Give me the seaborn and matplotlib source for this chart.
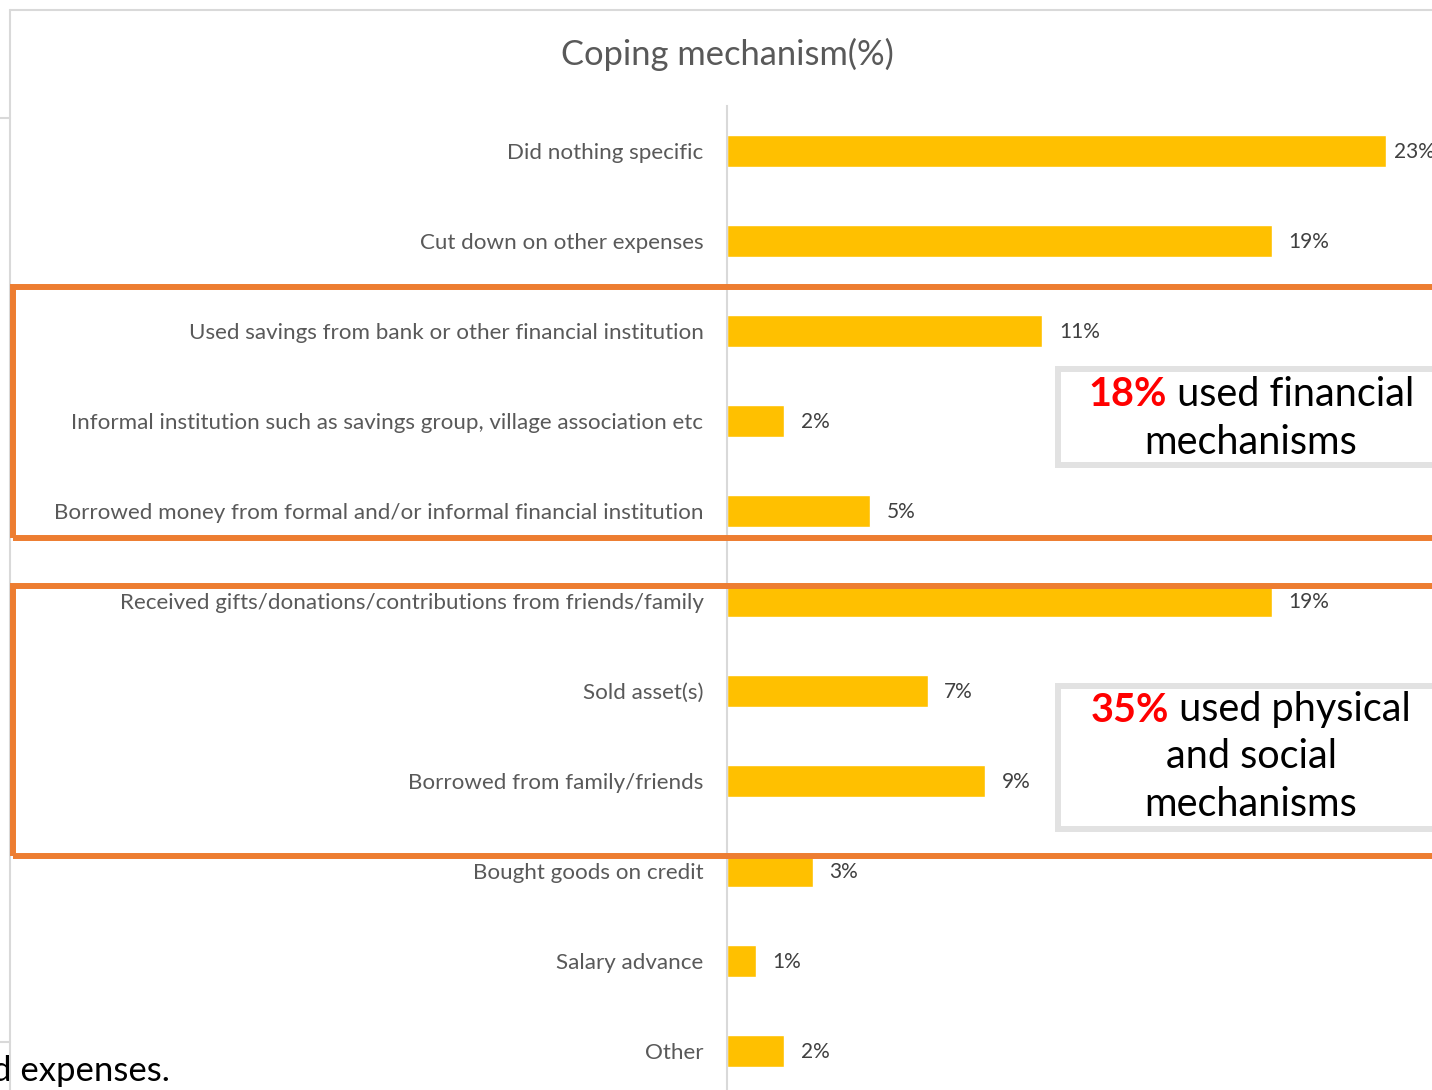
import matplotlib
matplotlib.use("Agg")
import matplotlib.pyplot as plt
from matplotlib.patches import Rectangle
from matplotlib.lines import Line2D
import seaborn as sns
import pandas as pd

# Survey results: coping mechanisms (% of respondents)
categories = [
    "Did nothing specific",
    "Cut down on other expenses",
    "Used savings from bank or other financial institution",
    "Informal institution such as savings group, village association etc",
    "Borrowed money from formal and/or informal financial institution",
    "Received gifts/donations/contributions from friends/family",
    "Sold asset(s)",
    "Borrowed from family/friends",
    "Bought goods on credit",
    "Salary advance",
    "Other",
]
values = [23, 19, 11, 2, 5, 19, 7, 9, 3, 1, 2]

title = "Coping mechanism(%)"
callout_financial = ("18%", " used financial", "mechanisms")
callout_social = ("35%", " used physical", "and social", "mechanisms")
footer_text = "d expenses."

df = pd.DataFrame({"mechanism": categories, "share": values})

sns.set_theme(style="white")
FONT = ["Lato", "DejaVu Sans"]
plt.rcParams["font.family"] = FONT

W, H = 1432, 1090
fig = plt.figure(figsize=(W / 100, H / 100), dpi=100)
fig.patch.set_facecolor("white")


def fx(px):
    return px / W


def fy(py):
    return 1 - py / H


ax = fig.add_axes([fx(727), 0, 1 - fx(727), fy(106)])
sns.barplot(data=df, y="mechanism", x="share", orient="h", color="#FFC000",
            width=0.355, saturation=1, ax=ax, zorder=2)
ax.set_xlim(0, 24.6)
ax.set_ylim(10.433, -0.5)
ax.set_xlabel("")
ax.set_ylabel("")
ax.set_xticks([])
for s in ["top", "right", "bottom"]:
    ax.spines[s].set_visible(False)
ax.spines["left"].set_color("#D9D9D9")
ax.spines["left"].set_linewidth(1.5)
ax.tick_params(axis="y", length=0, pad=17, labelsize=16.1, labelcolor="#595959")
ax.set_facecolor("none")

for i, v in enumerate(df["share"]):
    # the longest bar leaves little room, so its label sits closer
    gap = 6 if v == max(values) else 12
    ax.annotate(f"{v}%", xy=(v, i), xytext=(gap, -1), textcoords="offset points",
                va="center", ha="left", fontsize=15, color="#404040",
                annotation_clip=False)

# outer chart frame
frame_c = "#D9D9D9"
fig.add_artist(Line2D([fx(10), 1], [fy(10), fy(10)], color=frame_c, lw=1.5))
fig.add_artist(Line2D([fx(10), fx(10)], [fy(10), 0], color=frame_c, lw=1.5))
fig.add_artist(Line2D([0, fx(10)], [fy(118), fy(118)], color=frame_c, lw=1.5))
fig.add_artist(Line2D([0, fx(10)], [fy(1042), fy(1042)], color=frame_c, lw=1.5))

fig.text(fx(727), fy(54), title, ha="center", va="center", fontsize=24.8,
         color="#595959")

# orange group outlines
orange = "#ED7D31"
for top, bot in [(287, 538), (586, 856)]:
    fig.add_artist(Rectangle((fx(13), fy(bot)), 1.2, fy(top) - fy(bot),
                             transform=fig.transFigure, fill=False,
                             edgecolor=orange, lw=4.3, zorder=6))

# callout boxes
box_c = "#E2E2E2"
for top, bot in [(369, 465), (686, 829)]:
    fig.add_artist(Rectangle((fx(1058), fy(bot)), 0.5, fy(top) - fy(bot),
                             transform=fig.transFigure, facecolor="white",
                             edgecolor=box_c, lw=4.3, zorder=7))

renderer = fig.canvas.get_renderer()
CALL_FS = 28.5


def mixed_line(cx, cy, red, rest):
    t1 = fig.text(0, fy(cy), red, fontsize=CALL_FS, fontweight="bold",
                  color="#FF0000", va="center", ha="left", zorder=8)
    t2 = fig.text(0, fy(cy), rest, fontsize=CALL_FS, color="black",
                  va="center", ha="left", zorder=8)
    w1 = t1.get_window_extent(renderer).width
    w2 = t2.get_window_extent(renderer).width
    x0 = cx - (w1 + w2) / 2
    t1.set_x(fx(x0))
    t2.set_x(fx(x0 + w1))


def plain_line(cx, cy, s):
    fig.text(fx(cx), fy(cy), s, fontsize=CALL_FS, color="black",
             ha="center", va="center", zorder=8)


mixed_line(1251, 395, callout_financial[0], callout_financial[1])
plain_line(1251, 442, callout_financial[2])

mixed_line(1251, 710, callout_social[0], callout_social[1])
plain_line(1251, 757, callout_social[2])
plain_line(1251, 804, callout_social[3])

fig.text(fx(170), fy(1071), footer_text, fontsize=25, color="black",
         ha="right", va="center")

fig.savefig("out.png", dpi=100, facecolor="white")
